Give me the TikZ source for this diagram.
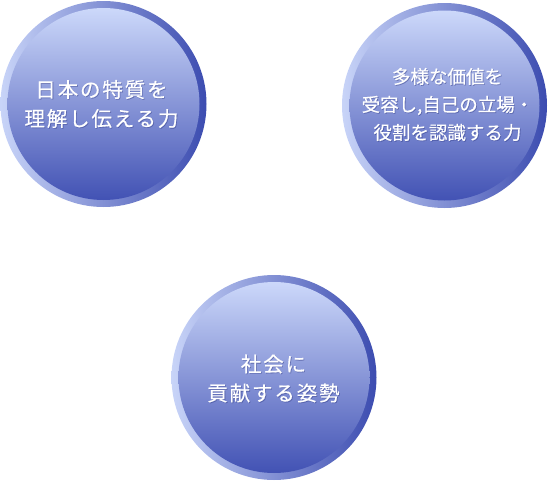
\documentclass[tikz,border=0pt]{standalone}
\usepackage{fontspec}
\newfontfamily\jpa[LetterSpace=9,FakeBold=0.5]{Noto Sans CJK JP}
\newfontfamily\jpb[LetterSpace=0,FakeBold=0.5]{Noto Sans CJK JP}
\definecolor{ringL}{HTML}{C8D4F8}
\definecolor{ringR}{HTML}{3C4CB0}
\definecolor{inT}{HTML}{CCD8FA}
\definecolor{inB}{HTML}{4252B4}
\definecolor{shad}{HTML}{27307A}
\begin{document}
\begin{tikzpicture}[x=1pt,y=-1pt,
  ring/.style={left color=ringL, right color=ringR},
  core/.style={top color=inT, bottom color=inB},
  txt/.style={text=white, align=center, inner sep=0pt},
  txtshadow/.style={text=shad, opacity=0.35, align=center, inner sep=0pt},
  bigfont/.style={font=\jpa\fontsize{20.5}{29}\selectfont},
  smallfont/.style={font=\jpb\fontsize{18.5}{28}\selectfont}]
\useasboundingbox (0,0) rectangle (550,483);
% circle 1
\path[ring] (103.5,104) circle[radius=103];
\path[core] (103.5,104) circle[radius=96];
\node[txtshadow, bigfont] (s1) at (102.3,104.8) {日本の特質を\\理解し伝える力};
\node[txt, bigfont] (t1) at (101.5,104) {日本の特質を\\理解し伝える力};
% circle 2
\path[ring] (444.5,105.5) circle[radius=102.5];
\path[core] (444.5,105.5) circle[radius=95];
\node[txtshadow, smallfont] (s2) at (448.3,105.3) {多様な価値を\\受容し,自己の立場・\\役割を認識する力};
\node[txt, smallfont] (t2) at (447.5,104.5) {多様な価値を\\受容し,自己の立場・\\役割を認識する力};
% circle 3
\path[ring] (274,377.5) circle[radius=102.5];
\path[core] (274,377.5) circle[radius=95.5];
\node[txtshadow, bigfont] (s3) at (274.3,379.3) {社会に\\貢献する姿勢};
\node[txt, bigfont] (t3) at (273.5,378.5) {社会に\\貢献する姿勢};
\end{tikzpicture}
\end{document}
